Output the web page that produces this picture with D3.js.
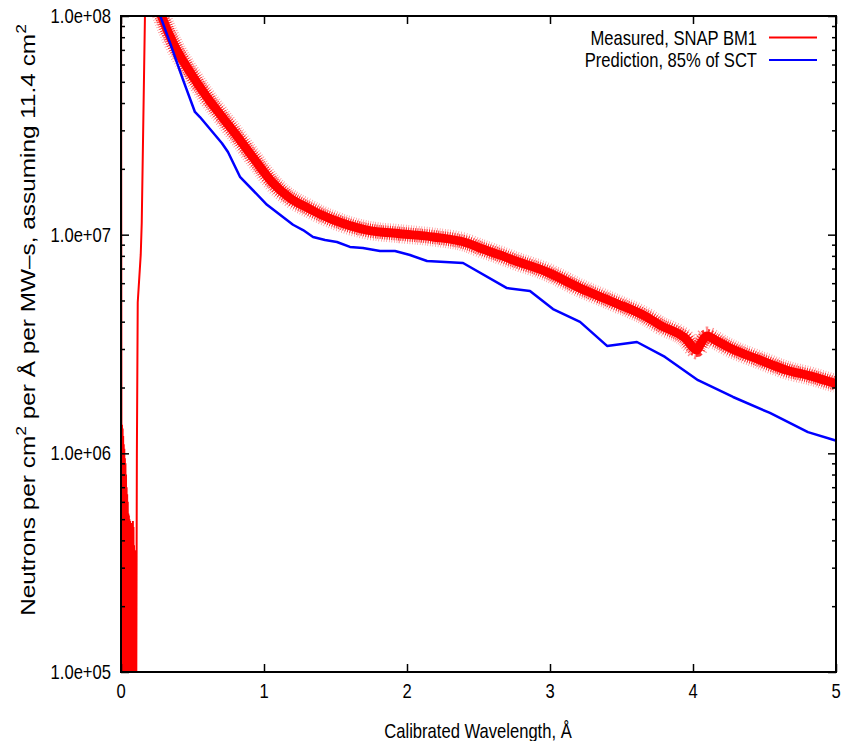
<!DOCTYPE html>
<html>
<head>
<meta charset="utf-8">
<script src="https://cdn.jsdelivr.net/npm/d3@7"></script>
<style>
  html, body { margin: 0; padding: 0; background: #fff; }
  svg { display: block; }
  text { font-family: "Liberation Sans", Arial, sans-serif; fill: #000; }
</style>
</head>
<body>
<svg id="chart" width="842" height="741"></svg>
<script>
// ---------------- DATA ----------------
const xTicks = [0, 1, 2, 3, 4, 5];
const yTicks = [1e5, 1e6, 1e7, 1e8];
const yTickLabels = ["1.0e+05", "1.0e+06", "1.0e+07", "1.0e+08"];
const seriesNames = ["Measured, SNAP BM1", "Prediction, 85% of SCT"];
const seriesColors = ["#ff0000", "#0000ff"];

// Measured: spiky low-wavelength part [wavelength (Å), flux]
const measuredLow = [
  [0.000, 3e8], [0.003, 1.4e6], [0.005, 5e4], [0.007, 1.35e6], [0.009, 4e4],
  [0.011, 1.3e6], [0.013, 6e4], [0.015, 1.2e6], [0.017, 5e4], [0.019, 1.1e6],
  [0.021, 4e4], [0.023, 1.05e6], [0.025, 2e5], [0.027, 9.5e5], [0.029, 5e4],
  [0.031, 9e5], [0.033, 3e5], [0.035, 8e5], [0.037, 5e4], [0.039, 7e5],
  [0.041, 1.5e5], [0.043, 6.5e5], [0.045, 5e4], [0.047, 6e5], [0.049, 2e5],
  [0.051, 5.3e5], [0.053, 4e4], [0.055, 5.2e5], [0.057, 1.2e5], [0.059, 5e5],
  [0.061, 4e4], [0.063, 4.9e5], [0.065, 2.5e5], [0.067, 4.7e5], [0.069, 5e4],
  [0.071, 4.5e5], [0.073, 1.8e5], [0.075, 4.8e5], [0.077, 5e4], [0.079, 4.3e5],
  [0.081, 2e5], [0.083, 4.9e5], [0.085, 5e4], [0.087, 4.6e5], [0.089, 1.5e5],
  [0.091, 3.8e5], [0.093, 5e4], [0.095, 3.6e5], [0.097, 1.4e5], [0.099, 3.4e5],
  [0.101, 5e4], [0.106, 5e4], [0.109, 3.3e5], [0.111, 1.0e6], [0.117, 4.9e6],
  [0.138, 8.1e6], [0.145, 1.13e7], [0.168, 1.05e8], [0.175, 2e8]
];

// Measured: main (noisy) band, centre values
const measuredMain = [
  [0.260, 1.10e8], [0.294, 9.6e7], [0.364, 7.53e7], [0.483, 5.54e7], [0.601, 4.26e7],
  [0.713, 3.42e7], [0.832, 2.71e7], [0.951, 2.13e7], [1.063, 1.72e7], [1.182, 1.47e7],
  [1.301, 1.33e7], [1.392, 1.24e7], [1.483, 1.17e7], [1.600, 1.10e7], [1.720, 1.05e7],
  [1.951, 1.01e7], [2.182, 9.76e6], [2.420, 9.16e6], [2.510, 8.69e6], [2.650, 8.07e6],
  [2.741, 7.66e6], [2.979, 6.75e6], [3.210, 5.70e6], [3.441, 4.92e6], [3.678, 4.20e6],
  [3.769, 3.86e6], [3.944, 3.37e6], [4.028, 2.97e6], [4.045, 3.10e6], [4.098, 3.44e6],
  [4.154, 3.30e6], [4.259, 3.03e6], [4.469, 2.67e6], [4.657, 2.40e6], [4.818, 2.26e6],
  [5.000, 2.08e6]
];

// Prediction, 85% of SCT
const prediction = [
  [0.270, 1.02e8], [0.343, 7.53e7], [0.434, 5.10e7], [0.517, 3.64e7], [0.552, 3.45e7],
  [0.706, 2.62e7], [0.748, 2.39e7], [0.832, 1.84e7], [1.021, 1.37e7], [1.203, 1.11e7],
  [1.273, 1.05e7], [1.343, 9.76e6], [1.427, 9.45e6], [1.510, 9.26e6], [1.601, 8.79e6],
  [1.692, 8.69e6], [1.811, 8.42e6], [1.916, 8.42e6], [2.021, 8.07e6], [2.140, 7.58e6],
  [2.392, 7.42e6], [2.699, 5.70e6], [2.860, 5.53e6], [3.021, 4.57e6], [3.210, 3.99e6],
  [3.399, 3.10e6], [3.608, 3.23e6], [3.804, 2.76e6], [4.035, 2.16e6], [4.280, 1.81e6],
  [4.538, 1.53e6], [4.804, 1.25e6], [5.007, 1.14e6]
];

// ---------------- CHART ----------------
const svg = d3.select("#chart");
const L = 121, R = 836, T = 16, B = 672;
const FS = 20, SX = 0.83;

const x = d3.scaleLinear().domain([0, 5]).range([L, R]);
const y = d3.scaleLog().domain([1e5, 1e8]).range([B, T]);

svg.append("defs").append("clipPath").attr("id", "clip")
  .append("rect").attr("x", L).attr("y", T).attr("width", R - L).attr("height", B - T);

const plot = svg.append("g").attr("clip-path", "url(#clip)");
const line = d3.line().x(d => x(d[0])).y(d => y(d[1]));
const smooth = d3.line().x(d => x(d[0])).y(d => y(d[1])).curve(d3.curveMonotoneX);

// measured noisy band: hatched fuzzy fringe + solid core
plot.append("path").datum(measuredMain).attr("d", smooth)
  .attr("fill", "none").attr("stroke", seriesColors[0]).attr("stroke-width", 19)
  .attr("stroke-opacity", 0.45).attr("stroke-dasharray", "0.7 1.9");
plot.append("path").datum(measuredMain).attr("d", smooth)
  .attr("fill", "none").attr("stroke", seriesColors[0]).attr("stroke-width", 14)
  .attr("stroke-opacity", 0.8).attr("stroke-dasharray", "1 1.3");
plot.append("path").datum(measuredMain).attr("d", smooth)
  .attr("fill", "none").attr("stroke", seriesColors[0]).attr("stroke-width", 9)
  .attr("stroke-linejoin", "round").attr("stroke-linecap", "round");
plot.append("path").datum(measuredLow).attr("d", line)
  .attr("fill", "none").attr("stroke", seriesColors[0]).attr("stroke-width", 2);
// prediction
plot.append("path").datum(prediction).attr("d", line)
  .attr("fill", "none").attr("stroke", seriesColors[1]).attr("stroke-width", 2.5)
  .attr("stroke-linejoin", "round");

// axes (ticks inward, mirrored)
function styleAxis(g) {
  g.select(".domain").remove();
  g.selectAll(".tick line").attr("stroke", "#000").attr("stroke-width", 1.5);
  g.selectAll(".tick text").remove();
}
const minorY = [];
[1e5, 1e6, 1e7].forEach(d => { for (let k = 2; k <= 9; k++) minorY.push(d * k); });

svg.append("g").attr("transform", `translate(${L},0)`)
  .call(d3.axisRight(y).tickValues(yTicks).tickSize(8)).call(styleAxis);
svg.append("g").attr("transform", `translate(${L},0)`)
  .call(d3.axisRight(y).tickValues(minorY).tickSize(4)).call(styleAxis);
svg.append("g").attr("transform", `translate(${R},0)`)
  .call(d3.axisLeft(y).tickValues(yTicks).tickSize(8)).call(styleAxis);
svg.append("g").attr("transform", `translate(${R},0)`)
  .call(d3.axisLeft(y).tickValues(minorY).tickSize(4)).call(styleAxis);
svg.append("g").attr("transform", `translate(0,${B})`)
  .call(d3.axisTop(x).tickValues(xTicks).tickSize(8)).call(styleAxis);
svg.append("g").attr("transform", `translate(0,${T})`)
  .call(d3.axisBottom(x).tickValues(xTicks).tickSize(8)).call(styleAxis);

// frame
svg.append("rect").attr("x", L).attr("y", T).attr("width", R - L).attr("height", B - T)
  .attr("fill", "none").attr("stroke", "#000").attr("stroke-width", 2);

function label(px, py, str, anchor) {
  return svg.append("text")
    .attr("transform", `translate(${px},${py}) scale(${SX},1)`)
    .attr("text-anchor", anchor).attr("font-size", FS).text(str);
}

// tick labels
yTicks.forEach((v, i) => label(111, y(v) + 7, yTickLabels[i], "end"));
xTicks.forEach(v => label(x(v), 698, String(v), "middle"));

// axis titles
label(478, 738, "Calibrated Wavelength, Å", "middle");

const yt = svg.append("text")
  .attr("transform", `translate(35,320) rotate(-90)`)
  .attr("text-anchor", "middle").attr("font-size", 19.5);
yt.append("tspan").text("Neutrons per cm");
yt.append("tspan").attr("dy", -9).attr("font-size", 14).text("2");
yt.append("tspan").attr("dy", 9).text(" per Å per MW–s, assuming 11.4 cm");
yt.append("tspan").attr("dy", -9).attr("font-size", 14).text("2");
// fit title to the reference length (about 592 px)
const ytLen = yt.node().getComputedTextLength();
yt.attr("transform", `translate(35,320) rotate(-90) scale(${592 / ytLen},1)`);

// legend
const legY = [37.5, 60];
seriesNames.forEach((n, i) => {
  label(757, legY[i] + 7, n, "end");
  svg.append("line").attr("x1", 769).attr("x2", 817)
    .attr("y1", legY[i]).attr("y2", legY[i])
    .attr("stroke", seriesColors[i]).attr("stroke-width", 2);
});
</script>
</body>
</html>
